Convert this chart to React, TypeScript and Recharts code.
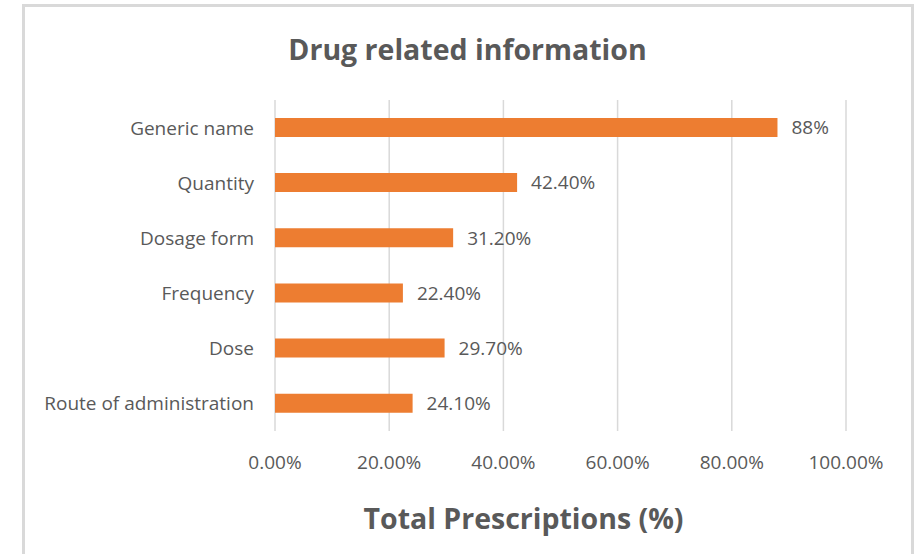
import React from 'react';
import { BarChart, Bar, XAxis, YAxis, CartesianGrid, LabelList } from 'recharts';

const categories = ['Generic name', 'Quantity', 'Dosage form', 'Frequency', 'Dose', 'Route of administration'];
const values = [88, 42.4, 31.2, 22.4, 29.7, 24.1];
const valueLabels = ['88%', '42.40%', '31.20%', '22.40%', '29.70%', '24.10%'];
const xTicks = [0, 20, 40, 60, 80, 100];

const data = categories.map((c, i) => ({ name: c, value: values[i], label: valueLabels[i] }));

const FONT = '"Open Sans", sans-serif';
const GRAY = '#595959';
const FS = 19;

const XTick = (props: any) => {
  const { x, y, payload } = props;
  return (
    <text x={x} y={y + 30} textAnchor="middle" fill={GRAY} fontSize={FS} fontFamily={FONT}>
      {`${payload.value.toFixed(2)}%`}
    </text>
  );
};

const YTick = (props: any) => {
  const { x, y, payload } = props;
  return (
    <text x={x - 13} y={y + 7} textAnchor="end" fill={GRAY} fontSize={FS} fontFamily={FONT}>
      {payload.value}
    </text>
  );
};

export default function App() {
  return (
    <div style={{ position: 'absolute', left: 0, top: 0, width: 922, height: 554, background: '#fff', overflow: 'hidden' }}>
      <div
        style={{
          position: 'absolute',
          left: 22,
          top: 4,
          width: 886,
          height: 560,
          borderTop: '3px solid #d9d9d9',
          borderLeft: '3px solid #d9d9d9',
          borderRight: '3px solid #d9d9d9',
        }}
      />
      <div
        style={{
          position: 'absolute',
          left: 0,
          top: 30,
          width: 935,
          textAlign: 'center',
          fontFamily: FONT,
          fontWeight: 700,
          fontSize: 28.5,
          color: GRAY,
        }}
      >
        Drug related information
      </div>
      <div
        style={{
          position: 'absolute',
          left: 0,
          top: 499,
          width: 1047,
          textAlign: 'center',
          fontFamily: FONT,
          fontWeight: 700,
          fontSize: 28.5,
          color: GRAY,
        }}
      >
        Total Prescriptions (%)
      </div>
      <div style={{ position: 'absolute', left: 0, top: 0 }}>
        <BarChart
          width={922}
          height={554}
          data={data}
          layout="vertical"
          margin={{ top: 100, right: 76, bottom: 93, left: 0 }}
          barCategoryGap="32.5%"
        >
          <CartesianGrid horizontal={false} stroke="#d9d9d9" strokeWidth={1.5} />
          <XAxis
            type="number"
            domain={[0, 100]}
            ticks={xTicks}
            axisLine={false}
            tickLine={false}
            height={30}
            tick={<XTick />}
            interval={0}
          />
          <YAxis
            type="category"
            dataKey="name"
            width={275}
            axisLine={false}
            tickLine={false}
            tick={<YTick />}
            interval={0}
          />
          <Bar dataKey="value" fill="#ED7D31" isAnimationActive={false}>
            <LabelList
              dataKey="label"
              position="right"
              offset={14}
              fill={GRAY}
              fontSize={FS}
              fontFamily={FONT}
            />
          </Bar>
        </BarChart>
      </div>
    </div>
  );
}
